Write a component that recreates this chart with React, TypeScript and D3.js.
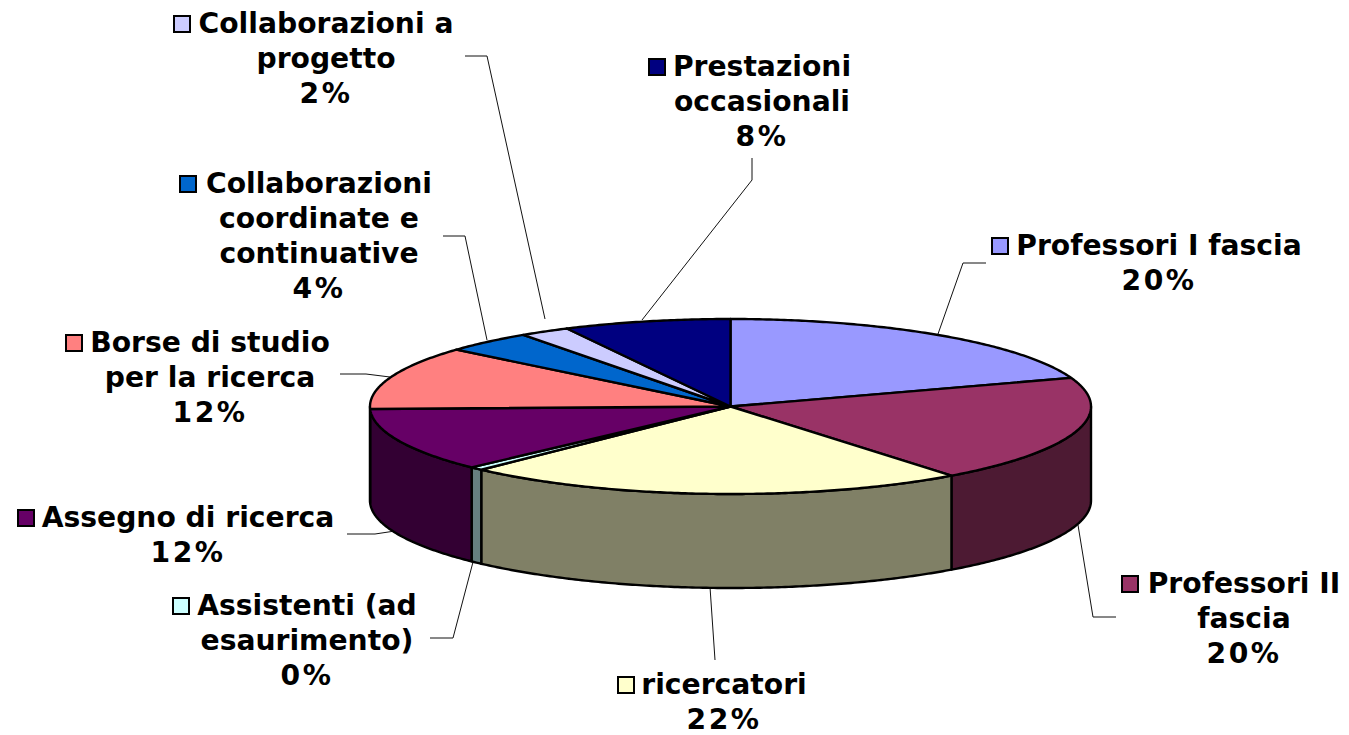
import React from 'react';
import * as d3 from 'd3';

const WIDTH = 1349;
const HEIGHT = 735;

// shares (printed labels are the rounded ones)
const categories = [
  'Professori I fascia',
  'Professori II fascia',
  'ricercatori',
  'Assistenti (ad esaurimento)',
  'Assegno di ricerca',
  'Borse di studio per la ricerca',
  'Collaborazioni coordinate e continuative',
  'Collaborazioni a progetto',
  'Prestazioni occasionali',
];
const shares = [19.7, 19.8, 22.65, 0.6, 11.8, 11.7, 4.0, 2.25, 7.5];
const percentLabels = ['20%', '20%', '22%', '0%', '12%', '12%', '4%', '2%', '8%'];
const labelLines = [
  ['Professori I fascia'],
  ['Professori II', 'fascia'],
  ['ricercatori'],
  ['Assistenti (ad', 'esaurimento)'],
  ['Assegno di ricerca'],
  ['Borse di studio', 'per la ricerca'],
  ['Collaborazioni', 'coordinate e', 'continuative'],
  ['Collaborazioni a', 'progetto'],
  ['Prestazioni', 'occasionali'],
];

const topColors = ['#9999ff', '#993366', '#ffffcc', '#ccffff', '#660066', '#ff8080', '#0066cc', '#ccccff', '#000080'];

// geometry of the tilted pie
const cx = 730.5;
const cy = 406.5;
const rx = 360.5;
const ry = 87.5;
const depth = 94;

// label placement: text centre, first baseline, left edge of the colour key
const labelX = [1159, 1244, 724, 307, 188, 210, 319, 326, 762];
const labelY = [255, 593, 694, 615, 527, 352, 193, 33, 76];
const keyX = [992, 1122, 618, 173, 18, 66, 180, 174, 649];
const LINE_HEIGHT = 35;
const KEY_SIZE = 16;

const leaders: [number, number][][] = [
  [[938, 334], [963, 263], [986, 263]],
  [[1078, 525], [1093, 617], [1116, 617]],
  [[710, 587], [715, 660]],
  [[473, 562], [453, 638], [430, 638]],
  [[395, 531], [375, 534], [347, 534]],
  [[390, 377], [366, 374], [340, 374]],
  [[487, 340], [465, 236], [443, 236]],
  [[545, 319], [487, 56], [465, 56]],
  [[642, 320], [752, 180], [752, 158]],
];

const x = d3.scaleLinear().domain([-1, 1]).range([cx - rx, cx + rx]);
const y = d3.scaleLinear().domain([-1, 1]).range([cy - ry, cy + ry]);

const line = d3.line();

const rimPoint = (t: number, drop = 0): [number, number] => [x(Math.sin(t)), y(-Math.cos(t)) + drop];

const sampleAngles = (a: number, b: number) => {
  const n = Math.max(2, Math.ceil((b - a) / 0.01));
  return d3.range(n + 1).map((i) => a + ((b - a) * i) / n);
};

const slices = d3
  .pie<number>()
  .sort(null)
  .value((d) => d)(shares);

const topPath = (a: number, b: number) =>
  line([[x(0), y(0)], ...sampleAngles(a, b).map((t) => rimPoint(t))]) + 'Z';

// only the front half of the rim (between 3 and 9 o'clock) shows a wall
const wallPath = (a: number, b: number) => {
  const from = Math.max(a, Math.PI / 2);
  const to = Math.min(b, (3 * Math.PI) / 2);
  if (to <= from) return null;
  const ts = sampleAngles(from, to);
  return (
    line([...ts.map((t) => rimPoint(t)), ...ts.slice().reverse().map((t) => rimPoint(t, depth))]) + 'Z'
  );
};

const wallColor = (c: string) => {
  const rgb = d3.rgb(c);
  return d3.rgb(rgb.r / 2, rgb.g / 2, rgb.b / 2).formatHex();
};

export default function App() {
  return (
    <svg
      width={WIDTH}
      height={HEIGHT}
      viewBox={`0 0 ${WIDTH} ${HEIGHT}`}
      style={{ position: 'absolute', left: 0, top: 0, background: '#fff' }}
    >
      <g fill="none" stroke="#111" strokeWidth={1}>
        {leaders.map((pts, i) => (
          <path key={categories[i]} d={line(pts) ?? ''} />
        ))}
      </g>

      <g stroke="#000" strokeWidth={2.4} strokeLinejoin="round">
        {slices.map((s, i) => {
          const d = wallPath(s.startAngle, s.endAngle);
          return d ? <path key={categories[i]} d={d} fill={wallColor(topColors[i])} /> : null;
        })}
        {slices.map((s, i) => (
          <path key={categories[i]} d={topPath(s.startAngle, s.endAngle)} fill={topColors[i]} />
        ))}
      </g>

      <g fontFamily="'DejaVu Sans', Verdana, sans-serif" fontWeight="bold" fontSize={28.2} fill="#000">
        {categories.map((name, i) => (
          <g key={name}>
            <rect
              x={keyX[i]}
              y={labelY[i] - 17}
              width={KEY_SIZE}
              height={KEY_SIZE}
              fill={topColors[i]}
              stroke="#000"
              strokeWidth={2}
            />
            <text textAnchor="middle">
              {labelLines[i].map((t, j) => (
                <tspan key={j} x={labelX[i]} y={labelY[i] + j * LINE_HEIGHT}>
                  {t}
                </tspan>
              ))}
              {/* the original face has a wider % sign, spacing makes up the width */}
              <tspan x={labelX[i]} y={labelY[i] + labelLines[i].length * LINE_HEIGHT} letterSpacing={2.5}>
                {percentLabels[i]}
              </tspan>
            </text>
          </g>
        ))}
      </g>
    </svg>
  );
}
